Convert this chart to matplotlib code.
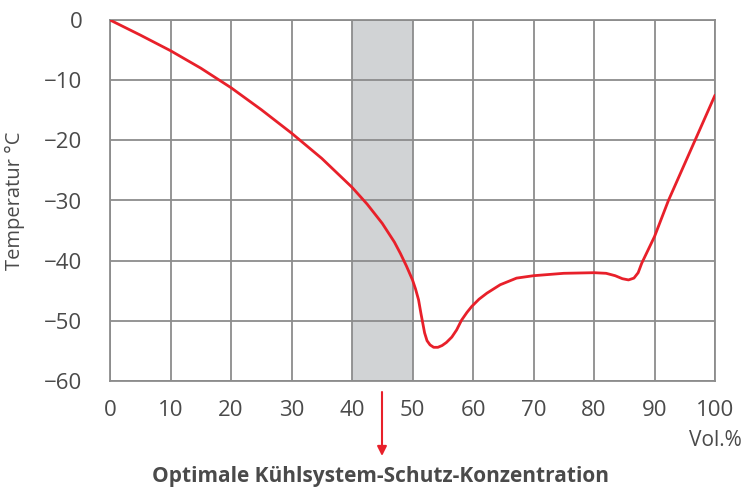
import matplotlib
matplotlib.use("Agg")
import matplotlib.pyplot as plt

# Data
vol = [0, 5, 10, 15, 20, 25, 30, 35, 40, 42.5, 45, 47, 48, 49, 50, 50.5, 51.0, 51.4, 51.7, 52.0, 52.4,
       52.9, 53.5, 54.2, 54.9, 55.6, 56.5, 57.3, 58.1, 59.0, 59.8, 61.0, 62.3, 64.5, 67.2, 70, 75, 80,
       82, 83.5, 84.7, 85.7, 86.6, 87.3, 87.9, 90, 92.3, 94.5, 96.7, 100]
temp = [0, -2.5, -5.1, -8.0, -11.25, -14.9, -18.8, -23.0, -27.8, -30.6, -33.8, -36.9, -38.8, -40.9, -43.2,
        -44.7, -46.5, -48.8, -50.4, -52.0, -53.3, -54.0, -54.4, -54.4, -54.1, -53.6, -52.7, -51.5,
        -49.9, -48.6, -47.6, -46.4, -45.4, -44.0, -42.9, -42.5, -42.1, -42.0, -42.1, -42.5, -43.0,
        -43.2, -42.9, -42.0, -40.4, -36.0, -30.0, -25.0, -20.0, -12.5]
x_ticks = list(range(0, 101, 10))
y_ticks = list(range(-60, 1, 10))
optimal_range = (40, 50)

plt.rcParams['font.family'] = ['Open Sans', 'DejaVu Sans']
text_color = '#4a4a4a'
grid_color = '#8c8c8c'
red = '#e8202a'

fig = plt.figure(figsize=(7.45, 4.9), dpi=100)
ax = fig.add_axes([110/745, 1-381/490, 605/745, 361/490])

ax.axvspan(*optimal_range, color='#d1d3d5', zorder=0, lw=0)
ax.plot(vol, temp, color=red, lw=2.0, zorder=3, solid_capstyle='round', solid_joinstyle='round')

ax.set_xlim(0, 100)
ax.set_ylim(-60, 0)
ax.set_xticks(x_ticks)
ax.set_yticks(y_ticks)
ax.grid(True, color=grid_color, lw=1.3, zorder=1)
ax.set_axisbelow(True)
for s in ax.spines.values():
    s.set_color(grid_color)
    s.set_linewidth(1.3)
ax.tick_params(length=0, labelsize=16, colors=text_color, pad=14)
ax.tick_params(axis='y', pad=20)

ax.set_ylabel('Temperatur °C', fontsize=14.5, color=text_color, labelpad=14)

fig.text(742/745, 1-440/490, 'Vol.%', ha='right', va='center', fontsize=15, color=text_color)

ax.annotate('', xy=(382/745, 1-456/490), xytext=(382/745, 1-392/490),
            xycoords='figure fraction', textcoords='figure fraction',
            arrowprops=dict(arrowstyle='-|>', color=red, lw=1.5, mutation_scale=14,
                            shrinkA=0, shrinkB=0))
fig.text(380/745, 1-476/490, 'Optimale Kühlsystem-Schutz-Konzentration', ha='center', va='center',
         fontsize=15, fontweight='bold', color=text_color)

fig.savefig('out.png', dpi=100)
